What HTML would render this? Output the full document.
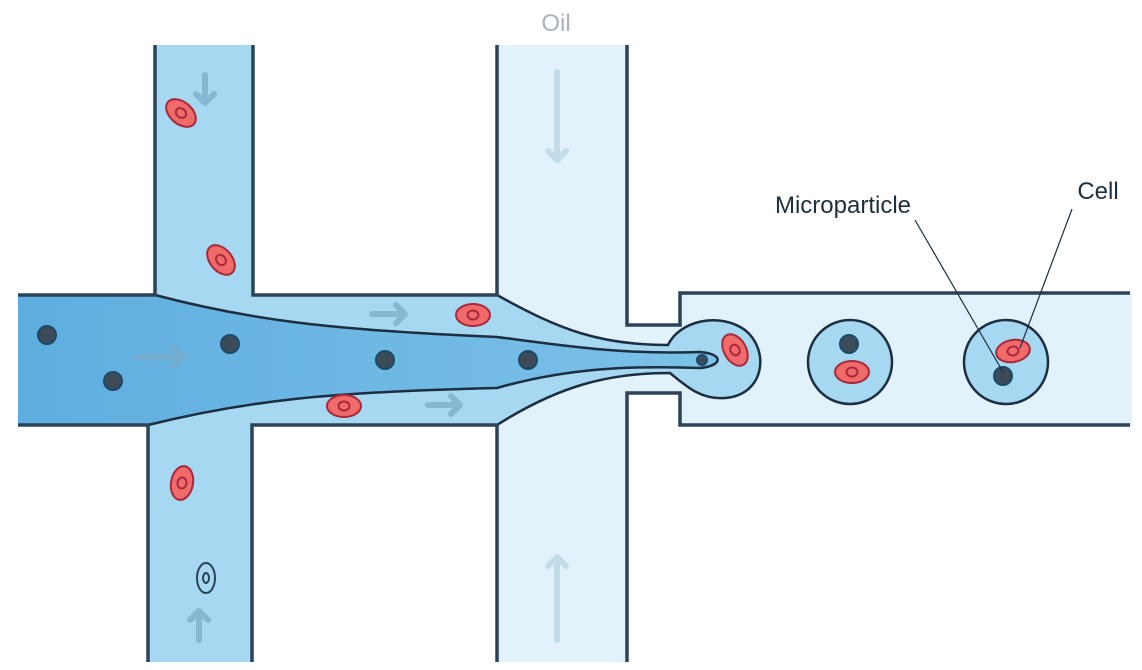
<!DOCTYPE html>
<html><head><meta charset="utf-8"><style>html,body{margin:0;padding:0;background:#fff}svg{display:block}</style></head>
<body>
<svg width="1142" height="670" viewBox="0 0 1142 670" xmlns="http://www.w3.org/2000/svg">
<defs>
<g id="cell"><ellipse rx="17" ry="11" fill="#f06a6a" stroke="#a8283c" stroke-width="2"/><ellipse rx="5.5" ry="4.5" fill="none" stroke="#a8283c" stroke-width="2"/></g>
<linearGradient id="g1" x1="0" x2="1" y1="0" y2="0"><stop offset="0" stop-color="#5fade0"/><stop offset="1" stop-color="#7cc2e8"/></linearGradient>
</defs>
<rect x="497" y="45" width="130" height="617" fill="#e2f2fb"/>
<rect x="627" y="325" width="60" height="68" fill="#e2f2fb"/>
<rect x="680" y="293" width="452" height="132" fill="#e2f2fb"/>
<rect x="155" y="45" width="98" height="260" fill="#a6d8f1"/>
<rect x="148" y="415" width="104" height="247" fill="#a6d8f1"/>
<path d="M18 295 H497 C560 330 600 345 668 345 C680 320 720 312 745 330 C770 350 765 395 725 398 C700 400 685 385 670 373 C610 373 560 385 497 425 H18 Z" fill="#a6d8f1"/>
<path d="M18 295 H155 C250 320 330 330 497 337 C560 345 620 355 700 352 C725 354 722 366 700 368 C620 365 560 370 497 388 C330 392 250 400 148 425 H18 Z" fill="url(#g1)"/>
<path d="M155 295 C250 320 330 330 497 337 C560 345 620 355 700 352 C725 354 722 366 700 368 C620 365 560 370 497 388 C330 392 250 400 148 425" fill="none" stroke="#1c2e40" stroke-width="2.5"/>
<path d="M497 295 C560 330 600 345 668 345 C680 320 720 312 745 330 C770 350 765 395 725 398 C700 400 685 385 670 373 C610 373 560 385 497 425" fill="none" stroke="#1c2e40" stroke-width="2.5"/>
<g fill="none" stroke="#2b4358" stroke-width="3.5">
<path d="M155 45 V295 H18 M253 45 V295 H497 V45 M18 425 H148 V662 M252 662 V425 H497 V662 M627 45 V325 H680 V293 H1130 M627 662 V393 H680 V425 H1130"/>
</g>
<circle cx="850" cy="362" r="42" fill="#a6d8f1" stroke="#1c2e40" stroke-width="2.5"/>
<circle cx="1006" cy="362" r="42" fill="#a6d8f1" stroke="#1c2e40" stroke-width="2.5"/>
<g fill="#3d4a58" stroke="#1c4a68" stroke-width="2">
<circle cx="47" cy="335" r="9"/><circle cx="113" cy="381" r="9"/><circle cx="230" cy="344" r="9"/><circle cx="385" cy="360" r="9"/><circle cx="528" cy="360" r="9"/><circle cx="702" cy="360" r="5"/><circle cx="849" cy="344" r="9"/><circle cx="1003" cy="376" r="9"/>
</g>
<use href="#cell" transform="translate(181,113) rotate(40)"/>
<use href="#cell" transform="translate(221,260) rotate(50)"/>
<use href="#cell" transform="translate(182,483) rotate(-80)"/>
<use href="#cell" transform="translate(473,315)"/>
<use href="#cell" transform="translate(344,406)"/>
<use href="#cell" transform="translate(735,350) rotate(60)"/>
<use href="#cell" transform="translate(852,372)"/>
<use href="#cell" transform="translate(1013,351) rotate(-10)"/>
<ellipse cx="206" cy="578" rx="9" ry="15" fill="none" stroke="#2b4358" stroke-width="2"/><ellipse cx="206" cy="578" rx="3" ry="5" fill="none" stroke="#2b4358" stroke-width="2"/>
<g fill="none" stroke-width="6" stroke-linecap="round" stroke-linejoin="round">
<g stroke="#7aa9c6" opacity="0.7"><path d="M205 75 V102 M196 94 L205 103 L214 94"/><path d="M199 640 V612 M190 620 L199 611 L208 620"/><path d="M137 357 H183 M173 348 L183 357 L173 366"/><path d="M372 314 H405 M396 305 L405 314 L396 323"/><path d="M428 405 H460 M451 396 L460 405 L451 414"/></g>
<g stroke="#c2dcea"><path d="M557 72 V160 M548 151 L557 160 L566 151"/><path d="M557 640 V557 M548 566 L557 557 L566 566"/></g>
</g>
<text x="556" y="31" font-family="Liberation Sans, sans-serif" font-size="24" fill="#a7b1b9" text-anchor="middle">Oil</text>
<text x="843" y="213" font-family="Liberation Sans, sans-serif" font-size="24" fill="#1c2e40" text-anchor="middle">Microparticle</text>
<text x="1098" y="199" font-family="Liberation Sans, sans-serif" font-size="24" fill="#1c2e40" text-anchor="middle">Cell</text>
<g stroke="#1c2e40" stroke-width="1.2"><line x1="915" y1="220" x2="1003" y2="372"/><line x1="1072" y1="209" x2="1020" y2="348"/></g>
</svg>
</body></html>
